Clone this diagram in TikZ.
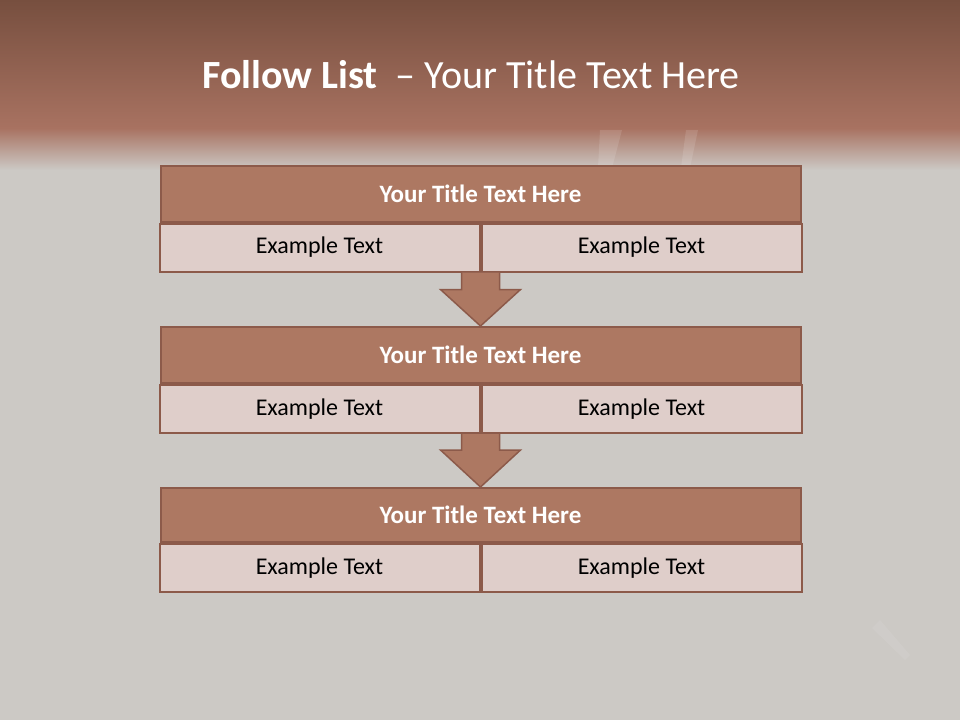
\documentclass[tikz,border=0pt]{standalone}
\usepackage{fontspec}
\setmainfont{Carlito}
\usetikzlibrary{calc}
\definecolor{bgray}{HTML}{CCC9C5}
\definecolor{hdtop}{HTML}{774F3F}
\definecolor{hdbot}{HTML}{A87261}
\definecolor{tfill}{HTML}{AD7862}
\definecolor{tline}{HTML}{8C5A4A}
\definecolor{rfill}{HTML}{DFCECA}
\tikzset{
  titlebox/.style={draw=tline, line width=2pt, fill=tfill, minimum width=640pt, minimum height=56pt, inner sep=0pt, text=white, font=\fontsize{25}{30}\selectfont\bfseries},
  cellbox/.style={draw=tline, line width=2pt, fill=rfill, minimum width=320pt, minimum height=48pt, inner sep=0pt, text=black, font=\fontsize{24}{29}\selectfont},
  downarrow/.style={draw=tline, line width=1.5pt, fill=tfill, line join=miter}
}
\begin{document}
\begin{tikzpicture}[x=1pt,y=-1pt]
\useasboundingbox (0,0) rectangle (960,720);
% background
\fill[bgray] (0,0) rectangle (960,720);
\shade[top color=hdtop, bottom color=hdbot] (0,0) rectangle (960,128);
\shade[top color=hdbot, bottom color=bgray] (0,128) rectangle (960,170);
% faint streaks
\fill[white,opacity=0.12] (600,130) -- (622,130) -- (612,168) -- (598,168) -- cycle;
\fill[white,opacity=0.12] (686,130) -- (698,130) -- (690,168) -- (681,168) -- cycle;
\fill[white,opacity=0.07] (880,620) -- (910,655) -- (905,660) -- (872,628) -- cycle;
% title
\node[text=white, font=\fontsize{40}{46}\selectfont] (title) at (471,75) {\textbf{Follow List}\ \ – Your Title Text Here};
% block 1
\node[titlebox] (t1) at (480.5,193.5) {Your Title Text Here};
\node[cellbox, anchor=north east] (l1) at (t1.south) {Example Text};
\node[cellbox, anchor=north west] (r1) at (t1.south) {Example Text};
% block 2
\node[titlebox] (t2) at (480.5,355) {Your Title Text Here};
\node[cellbox, anchor=north east] (l2) at (t2.south) {Example Text};
\node[cellbox, anchor=north west] (r2) at (t2.south) {Example Text};
% block 3
\node[titlebox, minimum height=54pt] (t3) at (480.5,515) {Your Title Text Here};
\node[cellbox, anchor=north east] (l3) at (t3.south) {Example Text};
\node[cellbox, anchor=north west] (r3) at (t3.south) {Example Text};
% arrows
\draw[downarrow] ($(l1.south east)+(-19,0)$) -- ($(l1.south east)+(-19,17)$) -- ($(l1.south east)+(-40,17)$)
  -- (t2.north) -- ($(l1.south east)+(40,17)$) -- ($(l1.south east)+(19,17)$) -- ($(l1.south east)+(19,0)$);
\draw[downarrow] ($(l2.south east)+(-19,0)$) -- ($(l2.south east)+(-19,16)$) -- ($(l2.south east)+(-40,16)$)
  -- (t3.north) -- ($(l2.south east)+(40,16)$) -- ($(l2.south east)+(19,16)$) -- ($(l2.south east)+(19,0)$);
\end{tikzpicture}
\end{document}
